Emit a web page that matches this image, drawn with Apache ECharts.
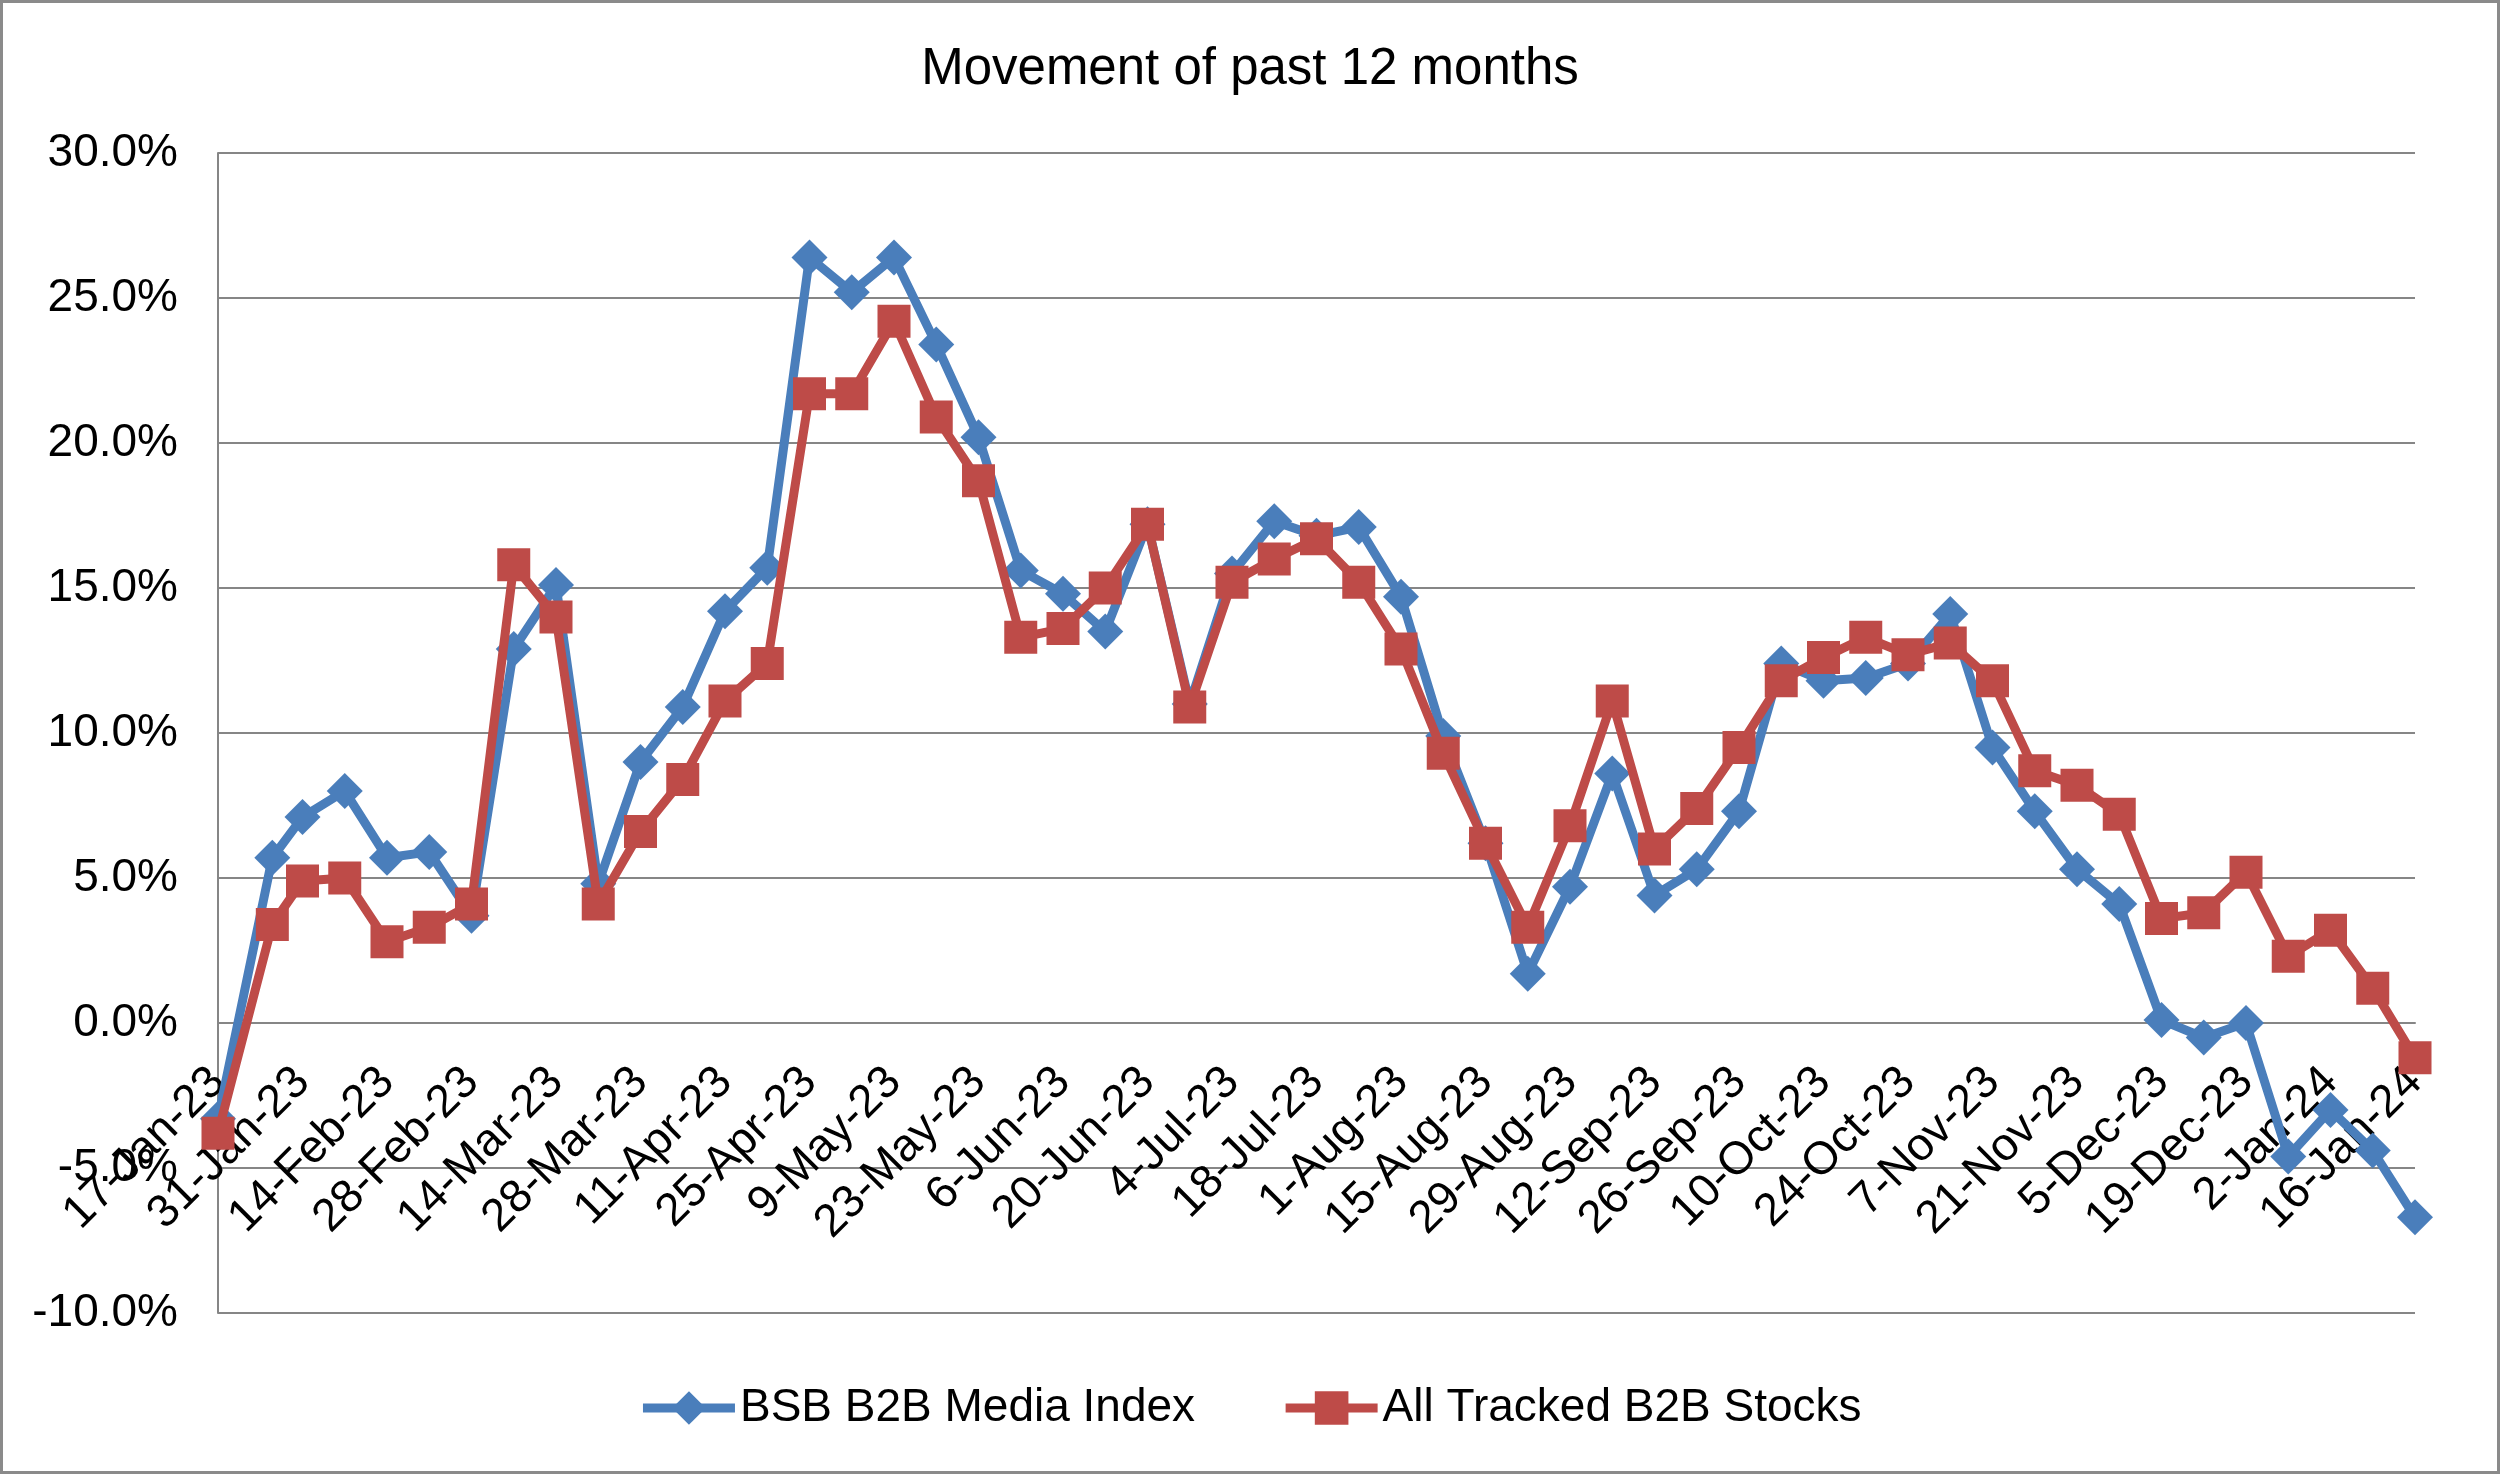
<!DOCTYPE html>
<html>
<head>
<meta charset="utf-8">
<script src="https://cdn.jsdelivr.net/npm/echarts@6/dist/echarts.min.js"></script>
<style>
  html, body { margin: 0; padding: 0; background: #fff; }
  #main { width: 2500px; height: 1474px; }
</style>
</head>
<body>
<div id="main"></div>
<script>
// ---- Data ----
const dates = [
  '2023-01-17','2023-01-26','2023-01-31','2023-02-07','2023-02-14','2023-02-21','2023-02-28',
  '2023-03-07','2023-03-14','2023-03-21','2023-03-28','2023-04-04','2023-04-11','2023-04-18',
  '2023-04-25','2023-05-02','2023-05-09','2023-05-16','2023-05-23','2023-05-30','2023-06-06',
  '2023-06-13','2023-06-20','2023-06-27','2023-07-04','2023-07-11','2023-07-18','2023-07-25',
  '2023-08-01','2023-08-08','2023-08-15','2023-08-22','2023-08-29','2023-09-05','2023-09-12',
  '2023-09-19','2023-09-26','2023-10-03','2023-10-10','2023-10-17','2023-10-24','2023-10-31',
  '2023-11-07','2023-11-14','2023-11-21','2023-11-28','2023-12-05','2023-12-12','2023-12-19',
  '2023-12-26','2024-01-02','2024-01-09','2024-01-16'
];
const bsbIndex = [
  -3.3, 5.7, 7.1, 8.0, 5.7, 5.9, 3.7, 12.9, 15.1, 4.8, 9.0, 10.9, 14.2, 15.7,
  26.4, 25.2, 26.4, 23.4, 20.2, 15.6, 14.8, 13.5, 17.2, 11.0, 15.5, 17.3, 16.8,
  17.1, 14.7, 9.9, 6.2, 1.7, 4.7, 8.6, 4.4, 5.3, 7.3, 12.4, 11.8, 11.9, 12.4,
  14.1, 9.5, 7.3, 5.3, 4.1, 0.1, -0.5, 0.0, -4.6, -3.0, -4.4, -6.7
];
const allTracked = [
  -3.8, 3.4, 4.9, 5.0, 2.8, 3.3, 4.1, 15.8, 14.0, 4.1, 6.6, 8.4, 11.1, 12.4,
  21.7, 21.7, 24.2, 20.9, 18.7, 13.3, 13.6, 15.0, 17.2, 10.9, 15.2, 16.0, 16.7,
  15.2, 12.9, 9.3, 6.2, 3.3, 6.8, 11.1, 6.0, 7.4, 9.5, 11.8, 12.6, 13.3, 12.7,
  13.1, 11.8, 8.7, 8.2, 7.2, 3.6, 3.8, 5.2, 2.3, 3.2, 1.2, -1.2
];
const seriesNames = ['BSB B2B Media Index', 'All Tracked B2B Stocks'];
const titleText = 'Movement of past 12 months';
const yMin = -10, yMax = 30, yStep = 5;
const xStepDays = 14;
const monthNames = ['Jan','Feb','Mar','Apr','May','Jun','Jul','Aug','Sep','Oct','Nov','Dec'];

// ---- Helpers ----
const DAY = 86400000;
const base = Date.parse(dates[0] + 'T00:00:00Z');
const dayOffsets = dates.map(d => Math.round((Date.parse(d + 'T00:00:00Z') - base) / DAY));
const xMax = dayOffsets[dayOffsets.length - 1];
function fmtDate(off) {
  const d = new Date(base + off * DAY);
  return d.getUTCDate() + '-' + monthNames[d.getUTCMonth()] + '-' + String(d.getUTCFullYear()).slice(2);
}
const pairs = arr => arr.map((v, i) => [dayOffsets[i], v]);

const FONT = "'Liberation Sans', Arial, sans-serif";
const GRID = '#868686';
const BLUE = '#4A7EBB';
const RED = '#BE4B48';

const W = 2500, H = 1474;
const gridBox = { left: 218, right: 85, top: 153, bottom: 161 };
const plotH = H - gridBox.top - gridBox.bottom;
// move the category axis (line + labels) up to the 0% level, like the original
const xAxisOffset = -plotH * (0 - yMin) / (yMax - yMin);

const chart = echarts.init(document.getElementById('main'), null, { renderer: 'canvas' });
chart.setOption({
  animation: false,
  backgroundColor: '#ffffff',
  textStyle: { fontFamily: FONT },
  title: {
    text: titleText,
    left: 'center',
    top: 39,
    textStyle: { fontFamily: FONT, fontSize: 51, fontWeight: 'normal', color: '#000' }
  },
  graphic: [{
    type: 'rect',
    shape: { x: 1.5, y: 1.5, width: W - 3, height: H - 3 },
    style: { fill: 'none', stroke: '#8a8a8a', lineWidth: 3 },
    silent: true
  }],
  legend: {
    data: seriesNames,
    left: 'center',
    top: 1380,
    itemWidth: 92,
    itemHeight: 42,
    itemGap: 86,
    lineStyle: { width: 9 },
    textStyle: { fontFamily: FONT, fontSize: 46, color: '#000' }
  },
  grid: Object.assign({ outerBoundsMode: 'none', containLabel: false }, gridBox),
  xAxis: {
    type: 'value',
    min: 0,
    max: xMax,
    interval: xStepDays,
    position: 'bottom',
    offset: xAxisOffset,
    axisLine: { show: true, onZero: false, lineStyle: { color: GRID, width: 2 } },
    axisTick: { show: false },
    splitLine: { show: false },
    axisLabel: {
      rotate: 45,
      margin: 52,
      fontFamily: FONT,
      fontSize: 46,
      color: '#000',
      formatter: v => fmtDate(v)
    }
  },
  yAxis: {
    type: 'value',
    min: yMin,
    max: yMax,
    interval: yStep,
    axisLine: { show: true, onZero: false, lineStyle: { color: GRID, width: 2 } },
    axisTick: { show: false },
    splitLine: { show: true, lineStyle: { color: GRID, width: 2 } },
    axisLabel: {
      margin: 40,
      fontFamily: FONT,
      fontSize: 46,
      color: '#000',
      formatter: v => v.toFixed(1) + '%'
    }
  },
  series: [
    {
      name: seriesNames[0],
      type: 'line',
      data: pairs(bsbIndex),
      symbol: 'diamond',
      symbolSize: 36,
      showAllSymbol: true,
      itemStyle: { color: BLUE },
      lineStyle: { color: BLUE, width: 9 },
      z: 2
    },
    {
      name: seriesNames[1],
      type: 'line',
      data: pairs(allTracked),
      symbol: 'rect',
      symbolSize: 33,
      showAllSymbol: true,
      itemStyle: { color: RED },
      lineStyle: { color: RED, width: 9 },
      z: 3
    }
  ]
});
</script>
</body>
</html>
